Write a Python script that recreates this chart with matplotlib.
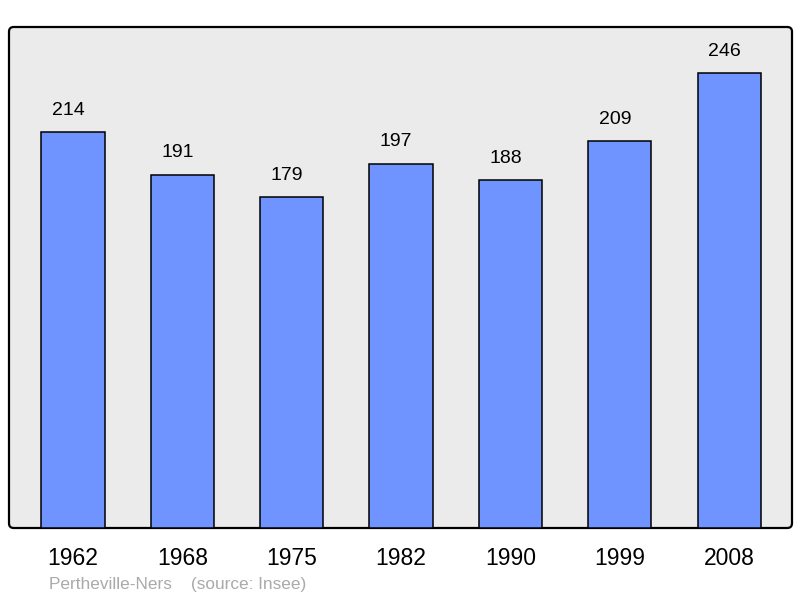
import matplotlib
matplotlib.use("Agg")
import matplotlib.pyplot as plt
from matplotlib.patches import FancyBboxPatch

years = ["1962", "1968", "1975", "1982", "1990", "1999", "2008"]
population = [214, 191, 179, 197, 188, 209, 246]
place = "Pertheville-Ners"
source = "(source: Insee)"

plt.rcParams['font.family'] = ['Liberation Sans', 'DejaVu Sans']

fig = plt.figure(figsize=(8, 5.98), dpi=100)
ax = fig.add_axes([9/800, 70/598, 783/800, 501/598])
ax.set_facecolor('none')

bg = FancyBboxPatch((0, 0), 1, 1, transform=ax.transAxes,
                    boxstyle="round,pad=0,rounding_size=0.006",
                    mutation_aspect=783/501,
                    facecolor='#ebebeb', edgecolor='black', linewidth=1.6,
                    zorder=0, clip_on=False)
ax.add_patch(bg)

x = list(range(len(years)))
bars = ax.bar(x, population, width=0.578, color='#7094ff',
              edgecolor='black', linewidth=1.1, zorder=2)
for xi, v in zip(x, population):
    ax.annotate(str(v), (xi, v), xytext=(-3.6, 9.5), textcoords='offset points',
                ha='center', va='bottom', fontsize=14, color='black')

ax.set_xlim(-0.585, 6.575)
ax.set_ylim(0, 270.8)
ax.set_xticks(x)
ax.set_xticklabels(years, fontsize=16.5)
ax.tick_params(axis='x', length=0, pad=14)
ax.set_yticks([])
for s in ax.spines.values():
    s.set_visible(False)

fig.text(49/800, 1 - 585/598, place + "    " + source, fontsize=12.4,
         color='#aaaaaa', ha='left', va='center')

fig.savefig("out.png", dpi=100)
